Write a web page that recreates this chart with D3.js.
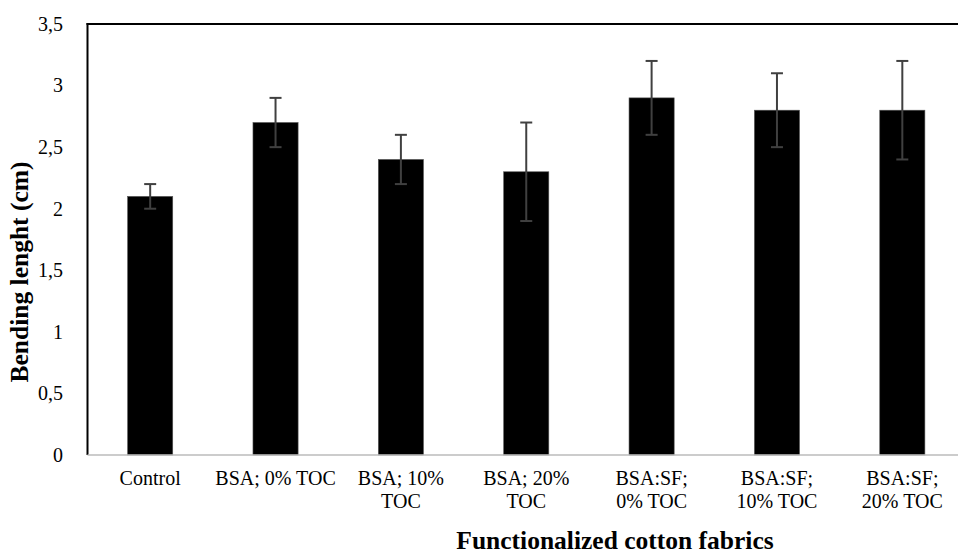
<!DOCTYPE html>
<html>
<head>
<meta charset="utf-8">
<script src="https://cdn.jsdelivr.net/npm/d3@7"></script>
<style>
  body { margin: 0; background: #fff; }
</style>
</head>
<body>
<svg id="chart" width="958" height="555"></svg>
<script>
// categories (one entry per bar) and their wrapped label lines
var categories = ["Control", "BSA; 0% TOC", "BSA; 10% TOC", "BSA; 20% TOC",
                  "BSA:SF; 0% TOC", "BSA:SF; 10% TOC", "BSA:SF; 20% TOC"];
var labelLines = [["Control"], ["BSA; 0% TOC"], ["BSA; 10%", "TOC"], ["BSA; 20%", "TOC"],
                  ["BSA:SF;", "0% TOC"], ["BSA:SF;", "10% TOC"], ["BSA:SF;", "20% TOC"]];
var values = [2.1, 2.7, 2.4, 2.3, 2.9, 2.8, 2.8];
var errors = [0.1, 0.2, 0.2, 0.4, 0.3, 0.3, 0.4];
var yTicks = [0, 0.5, 1, 1.5, 2, 2.5, 3, 3.5];

var serif = "'Liberation Serif', 'Times New Roman', Times, serif";

var svg = d3.select("#chart");

var plotLeft = 87.5, plotRight = 965, plotTop = 24, plotBottom = 455;

var x = d3.scaleBand()
    .domain(categories)
    .range([plotLeft, plotRight])
    .paddingInner(0.64)
    .paddingOuter(0.32);

var y = d3.scaleLinear()
    .domain([0, 3.5])
    .range([plotBottom, plotTop]);

var fmt = function(d) { return String(d).replace(".", ","); };

// bars
svg.selectAll(".bar")
    .data(values)
  .enter().append("rect")
    .attr("class", "bar")
    .attr("x", function(d, i) { return x(categories[i]); })
    .attr("y", function(d) { return y(d); })
    .attr("width", x.bandwidth())
    .attr("height", function(d) { return y(0) - y(d); })
    .attr("fill", "#000")
    .attr("stroke", "#555")
    .attr("stroke-width", 0.6);

// error bars
var err = svg.selectAll(".err")
    .data(values)
  .enter().append("g")
    .attr("class", "err")
    .attr("transform", function(d, i) { return "translate(" + (x(categories[i]) + x.bandwidth() / 2) + ",0)"; })
    .attr("stroke", "#404040")
    .attr("stroke-width", 2);

err.append("line")
    .attr("y1", function(d, i) { return y(d + errors[i]); })
    .attr("y2", function(d, i) { return y(d - errors[i]); });
err.append("line")
    .attr("x1", -6).attr("x2", 6)
    .attr("y1", function(d, i) { return y(d + errors[i]); })
    .attr("y2", function(d, i) { return y(d + errors[i]); });
err.append("line")
    .attr("x1", -6).attr("x2", 6)
    .attr("y1", function(d, i) { return y(d - errors[i]); })
    .attr("y2", function(d, i) { return y(d - errors[i]); });

// frame: left and top black, bottom gray
svg.append("line")
    .attr("x1", plotLeft).attr("x2", plotLeft)
    .attr("y1", plotTop - 1).attr("y2", plotBottom)
    .attr("stroke", "#000").attr("stroke-width", 2);
svg.append("line")
    .attr("x1", plotLeft - 1).attr("x2", plotRight)
    .attr("y1", plotTop).attr("y2", plotTop)
    .attr("stroke", "#000").attr("stroke-width", 2);
svg.append("line")
    .attr("x1", plotLeft).attr("x2", plotRight)
    .attr("y1", plotBottom).attr("y2", plotBottom)
    .attr("stroke", "#bbb").attr("stroke-width", 1.5);

// y tick labels
svg.selectAll(".ytick")
    .data(yTicks)
  .enter().append("text")
    .attr("class", "ytick")
    .attr("x", 63)
    .attr("y", function(d) { return y(d); })
    .attr("dy", ".34em")
    .attr("text-anchor", "end")
    .attr("font-family", serif)
    .attr("font-size", 20)
    .text(fmt);

// x category labels
var xl = svg.selectAll(".xlab")
    .data(labelLines)
  .enter().append("text")
    .attr("class", "xlab")
    .attr("text-anchor", "middle")
    .attr("transform", function(d, i) { return "translate(" + (x(categories[i]) + x.bandwidth() / 2) + ",485)"; })
    .attr("font-family", serif)
    .attr("font-size", 20);
xl.selectAll("tspan")
    .data(function(d) { return d; })
  .enter().append("tspan")
    .attr("x", 0)
    .attr("y", function(d, j) { return j * 23; })
    .text(function(d) { return d; });

// axis titles
svg.append("text")
    .attr("transform", "translate(28,272)rotate(-90)")
    .attr("text-anchor", "middle")
    .attr("font-family", serif)
    .attr("font-size", 25.5)
    .attr("font-weight", "bold")
    .text("Bending lenght (cm)");

svg.append("text")
    .attr("x", 615)
    .attr("y", 549)
    .attr("text-anchor", "middle")
    .attr("font-family", serif)
    .attr("font-size", 25.5)
    .attr("font-weight", "bold")
    .text("Functionalized cotton fabrics");
</script>
</body>
</html>
